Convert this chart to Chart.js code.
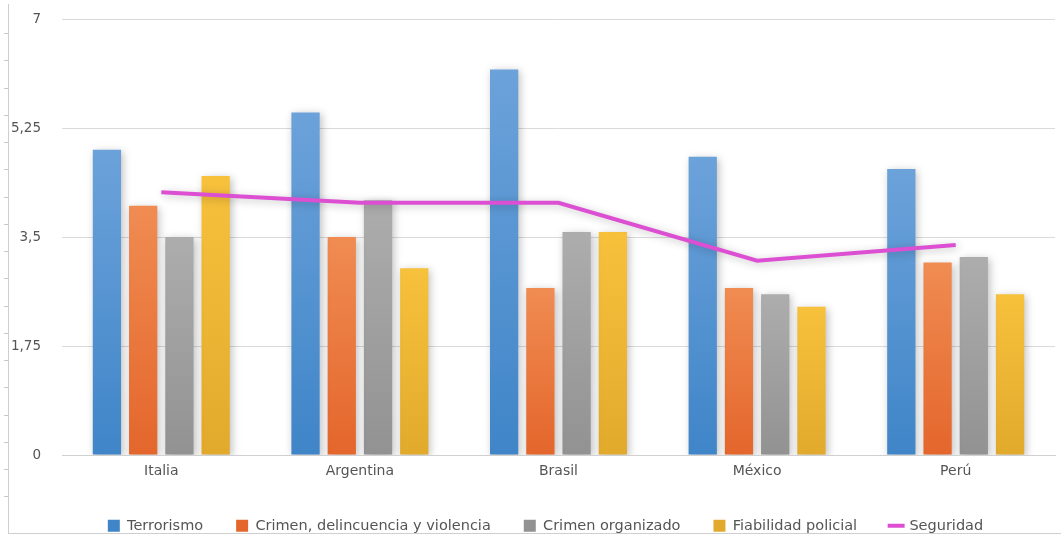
<!DOCTYPE html>
<html>
<head>
<meta charset="utf-8">
<script src="https://cdn.jsdelivr.net/npm/chart.js@4.4.0/dist/chart.umd.min.js"></script>
<style>
    html, body { margin: 0; padding: 0; background: #fff; overflow: hidden; }
    .wrap { position: relative; width: 1061px; height: 539px; }
    canvas { display: block; }
    .frame {
        position: absolute; left: 8px; top: 4px; right: 0; bottom: 5px;
        border-left: 1px solid #cfcfcf; border-bottom: 1px solid #cfcfcf;
        pointer-events: none;
    }
    .ticks {
        position: absolute; left: 4px; top: 33px; width: 4px; height: 490px;
        background: repeating-linear-gradient(to bottom, #c8c8c8 0, #c8c8c8 1px, transparent 1px, transparent 27.25px);
        pointer-events: none;
    }
</style>
</head>
<body>
<div class="wrap">
    <canvas id="chart" width="1061" height="539"></canvas>
    <div class="frame"></div>
    <div class="ticks"></div>
</div>
<script>
const paises = ['Italia', 'Argentina', 'Brasil', 'México', 'Perú'];
const terrorismo = [4.90, 5.50, 6.19, 4.79, 4.59];
const crimenDelincuencia = [4.00, 3.50, 2.68, 2.68, 3.09];
const crimenOrganizado = [3.50, 4.09, 3.58, 2.58, 3.18];
const fiabilidadPolicial = [4.48, 3.00, 3.58, 2.38, 2.58];
const seguridad = [4.22, 4.05, 4.05, 3.12, 3.37];
const yTicks = ['0', '1,75', '3,5', '5,25', '7'];

// per-bar vertical gradient (lighter at top)
function barGradient(top, bottom) {
    return function (c) {
        const chart = c.chart;
        const y = chart.scales.y;
        if (!y || c.parsed === undefined || !chart.chartArea) return bottom;
        const y0 = y.getPixelForValue(c.parsed.y);
        const y1 = y.getPixelForValue(0);
        const g = chart.ctx.createLinearGradient(0, y0, 0, y1);
        g.addColorStop(0, top);
        g.addColorStop(1, bottom);
        return g;
    };
}

const shadowPlugin = {
    id: 'shadow',
    beforeDatasetDraw(chart) {
        const ctx = chart.ctx;
        ctx.save();
        ctx.shadowColor = 'rgba(0,0,0,0.25)';
        ctx.shadowBlur = 8;
        ctx.shadowOffsetX = 2;
        ctx.shadowOffsetY = 2;
    },
    afterDatasetDraw(chart) {
        chart.ctx.restore();
    }
};

// legend sits a little right of centre in the original
const legendShift = {
    id: 'legendShift',
    afterLayout(chart) {
        chart.legend.left += 18;
        chart.legend.right += 18;
    }
};

const barOpts = {
    type: 'bar',
    categoryPercentage: 0.73,
    barPercentage: 0.78,
    borderWidth: 0,
    pointStyle: 'rect',
    order: 1
};

const ctx = document.getElementById('chart').getContext('2d');
new Chart(ctx, {
    data: {
        labels: paises,
        datasets: [
            Object.assign({ label: 'Terrorismo', data: terrorismo,
                backgroundColor: barGradient('#6ca2da', '#3f85c8') }, barOpts),
            Object.assign({ label: 'Crimen, delincuencia y violencia', data: crimenDelincuencia,
                backgroundColor: barGradient('#f08c52', '#e4662c') }, barOpts),
            Object.assign({ label: 'Crimen organizado', data: crimenOrganizado,
                backgroundColor: barGradient('#adadad', '#929292') }, barOpts),
            Object.assign({ label: 'Fiabilidad policial', data: fiabilidadPolicial,
                backgroundColor: barGradient('#f7c13c', '#e2aa2c') }, barOpts),
            {
                type: 'line',
                label: 'Seguridad',
                data: seguridad,
                borderColor: '#dc4fd2',
                backgroundColor: '#dc4fd2',
                borderWidth: 4,
                tension: 0,
                pointRadius: 0,
                pointStyle: 'line',
                fill: false,
                order: 0
            }
        ]
    },
    options: {
        responsive: false,
        animation: false,
        layout: { padding: { top: 19, right: 6, left: 0, bottom: -4 } },
        plugins: {
            tooltip: { enabled: false },
            legend: {
                position: 'bottom',
                labels: {
                    usePointStyle: true,
                    boxWidth: 12,
                    boxHeight: 12,
                    padding: 33,
                    color: '#555',
                    font: { family: 'DejaVu Sans', size: 14.5 },
                    sort: (a, b) => a.datasetIndex - b.datasetIndex
                }
            }
        },
        scales: {
            x: {
                afterFit: (scale) => {
                    scale.height = 30.5;
                    scale.paddingTop = 0; scale.paddingBottom = 0;
                    scale.paddingLeft = 0; scale.paddingRight = 0;
                },
                grid: { display: false, drawTicks: false },
                border: { color: '#d0d0d0' },
                ticks: { color: '#555', padding: 8, font: { family: 'DejaVu Sans', size: 14 } }
            },
            y: {
                min: 0,
                max: 7,
                afterFit: (scale) => {
                    scale.width = 62;
                    scale.paddingTop = 0; scale.paddingBottom = 0;
                },
                grid: { color: '#dadada', drawTicks: false },
                border: { display: false },
                ticks: {
                    stepSize: 1.75,
                    padding: 21,
                    color: '#555',
                    font: { family: 'DejaVu Sans', size: 13.5 },
                    callback: (v, i) => yTicks[i]
                }
            }
        }
    },
    plugins: [shadowPlugin, legendShift]
});
</script>
</body>
</html>
